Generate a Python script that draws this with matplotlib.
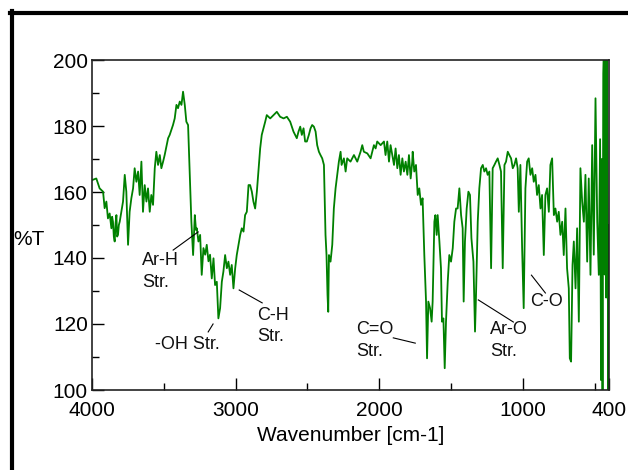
import matplotlib
matplotlib.use("Agg")
import matplotlib.pyplot as plt
from matplotlib.lines import Line2D

plt.rcParams['font.family'] = ['Liberation Sans', 'DejaVu Sans']

# Wavenumber (cm-1) and %T
wavenumber = [
    4000, 3970, 3947, 3923, 3912, 3900, 3889, 3877, 3865, 3860, 3854, 3848, 3842, 3836, 3830,
    3825, 3819, 3813, 3807,
    3796, 3784, 3772, 3761, 3749, 3738, 3726, 3714, 3703, 3691, 3679, 3668, 3656, 3645,
    3633, 3621, 3610, 3598, 3587, 3575, 3563, 3552, 3540, 3528, 3517, 3505, 3494, 3470,
    3459, 3436, 3424, 3412, 3401, 3389, 3377, 3366, 3354, 3343, 3331, 3319, 3308, 3296,
    3284, 3276, 3270, 3259, 3247, 3236, 3224, 3212, 3201, 3189, 3178, 3166, 3154, 3143,
    3131, 3120, 3108, 3096, 3085, 3073, 3061, 3050, 3038, 3027, 3015, 3003, 2992, 2980,
    2968, 2957, 2945, 2934, 2922, 2910, 2899, 2887, 2876, 2864, 2852, 2841, 2829, 2818,
    2806, 2794, 2783, 2759, 2736, 2713, 2690, 2666, 2643, 2620, 2597, 2574, 2562, 2550,
    2539, 2527, 2516, 2504, 2490, 2478, 2467, 2455, 2443, 2432, 2420, 2409, 2397, 2385,
    2374, 2367, 2360, 2355, 2350, 2339, 2327, 2316, 2304, 2292, 2281, 2269, 2262, 2246,
    2234, 2223, 2200, 2176, 2153, 2130, 2118, 2107, 2083, 2060, 2037, 2025, 2014, 1990,
    1967, 1956, 1944, 1932, 1921, 1909, 1897, 1886, 1874, 1863, 1851, 1839, 1828, 1816,
    1804, 1793, 1781, 1770, 1767, 1756, 1744, 1732, 1721, 1709, 1698, 1686, 1674, 1667,
    1658, 1646, 1635, 1628, 1616, 1609, 1600, 1593, 1581, 1570, 1563, 1553, 1544, 1535,
    1523, 1512, 1500, 1488, 1477, 1465, 1454, 1442, 1430, 1419, 1412, 1403, 1391, 1379,
    1368, 1358, 1344, 1333, 1326, 1314, 1303, 1291, 1279, 1268, 1256, 1245, 1233, 1221,
    1210, 1198, 1187, 1175, 1163, 1152, 1140, 1128, 1117, 1105, 1094, 1082, 1070, 1059,
    1047, 1036, 1028, 1017, 1005, 994, 982, 970, 959, 947, 935, 924, 912, 901,
    889, 877, 866, 854, 843, 831, 819, 808, 796, 784, 773, 761, 750, 738,
    726, 715, 703, 692, 680, 673, 664, 654, 645, 633, 622, 610, 599, 587,
    575, 564, 552, 541, 529, 517, 506, 494, 482, 471, 462, 455, 450, 445,
    440, 435, 430, 425, 420, 415, 410, 405, 402, 400,
]
transmittance = [
    163.6, 164.1, 161.1, 160.1, 155.1, 157.1, 152.0, 153.5, 149.0, 152.5, 151.0, 146.5, 145.0, 150.5, 153.0,
    146.5, 147.0, 150.0, 151.0,
    154.0, 157.1, 165.2, 160.1, 144.0, 154.0, 158.1, 161.1, 167.2, 163.1, 166.2, 159.1, 169.2, 154.0,
    162.1, 157.1, 161.1, 154.0, 159.1, 156.1, 167.2, 172.2, 168.2, 171.2, 167.2, 169.2, 171.2, 176.3,
    177.3, 180.3, 182.3, 186.4, 185.4, 187.4, 186.4, 190.4, 186.4, 181.3, 180.3, 165.2, 151.0, 140.9,
    153.0, 148.5, 149.0, 145.0, 147.0, 134.9, 143.0, 141.0, 144.0, 139.0, 141.0, 133.8, 139.9, 131.8,
    132.8, 121.7, 124.8, 132.8, 135.9, 140.9, 136.9, 138.9, 134.9, 137.9, 130.8, 136.9, 140.9, 144.0,
    147.0, 149.0, 148.0, 153.0, 154.0, 162.1, 162.1, 160.1, 157.1, 155.0, 160.1, 166.2, 173.2, 177.3,
    179.3, 181.3, 183.3, 182.3, 183.3, 184.3, 182.8, 182.3, 182.8, 181.3, 178.3, 176.3, 178.3, 179.8,
    177.3, 179.3, 175.3, 175.3, 177.3, 179.3, 180.3, 179.8, 178.3, 174.2, 172.2, 171.2, 170.2, 168.2,
    147.0, 140.9, 128.8, 123.7, 140.9, 138.9, 144.0, 155.0, 161.1, 165.2, 169.2, 172.2, 168.2, 170.2,
    166.2, 170.2, 169.2, 171.2, 169.2, 172.2, 174.2, 172.2, 171.7, 170.2, 174.2, 173.2, 175.3, 174.2,
    175.3, 171.2, 175.3, 169.2, 174.2, 171.2, 168.2, 173.2, 167.2, 171.2, 165.2, 170.2, 166.2, 169.2,
    165.2, 171.2, 164.1, 169.2, 172.2, 166.2, 168.2, 159.1, 161.1, 156.1, 158.1, 140.9, 126.8, 109.6,
    126.8, 124.8, 120.7, 126.8, 151.0, 153.0, 147.0, 153.0, 145.0, 136.9, 120.7, 121.7, 106.6, 120.7,
    132.8, 140.9, 138.9, 143.0, 151.0, 155.0, 155.0, 161.1, 153.0, 149.0, 126.8, 145.0, 155.0, 160.1,
    159.1, 146.0, 138.9, 117.7, 128.8, 151.0, 161.1, 167.2, 168.2, 166.2, 167.2, 165.2, 166.2, 136.9,
    167.2, 168.2, 169.2, 170.2, 168.2, 166.2, 136.9, 168.2, 169.2, 172.2, 171.2, 170.2, 167.2, 168.2,
    170.2, 167.2, 154.0, 168.2, 143.0, 124.8, 161.1, 169.2, 170.2, 165.2, 167.2, 163.1, 165.2, 159.1,
    162.1, 155.0, 159.1, 140.9, 159.1, 161.1, 154.0, 168.2, 170.2, 153.0, 155.0, 151.0, 154.0, 147.0,
    151.0, 140.9, 155.0, 136.9, 130.8, 109.6, 108.6, 137.9, 145.0, 130.8, 149.0, 120.7, 167.2, 157.1,
    151.0, 165.2, 138.9, 164.1, 134.9, 174.2, 141.0, 188.4, 151.0, 134.9, 176.0, 103.0, 170.0, 98.0,
    196.0, 205.0, 135.0, 205.0, 128.0, 205.0, 150.0, 98.0, 145.0, 150.0,
]

x_ticks = [4000, 3000, 2000, 1000, 400]
x_tick_labels = ['4000', '3000', '2000', '1000', '400']
y_ticks = [100, 120, 140, 160, 180, 200]

# annotation labels: (text, text position, leader start, leader end)
annotations = [
    ("Ar-H\nStr.", (3651, 141.8), (3435, 142.4), (3261, 147.9)),
    ("-OH Str.", (3561, 116.3), (3191, 117.6), (3157, 120.0)),
    ("C-H\nStr.", (2850, 125.3), (2975, 130.3), (2815, 126.4)),
    ("C=O\nStr.", (2160, 120.8), (1902, 115.8), (1749, 114.2)),
    ("Ar-O\nStr.", (1226, 120.8), (1310, 127.3), (1066, 120.6)),
    ("C-O", (947, 129.3), (940, 134.8), (843, 129.4)),
]

W, H = 628, 470
fig = plt.figure(figsize=(W / 100, H / 100), dpi=100)
ax = fig.add_axes([92 / W, (H - 390) / H, 517 / W, 330 / H])

ax.plot(wavenumber, transmittance, color='#008000', linewidth=1.3)

ax.set_xlim(4000, 400)
ax.set_ylim(100, 200)
ax.set_xticks(x_ticks)
ax.set_xticklabels(x_tick_labels)
ax.set_xticks([3500, 2500, 1500, 500], minor=True)
ax.set_yticks(y_ticks)
ax.set_yticks([110, 130, 150, 170, 190], minor=True)

ax.tick_params(axis='both', which='major', direction='in', length=8.6, width=1.0,
               labelsize=15, colors='black')
ax.tick_params(axis='both', which='minor', direction='in', length=5, width=1.0)
ax.tick_params(axis='x', which='major', pad=8)
ax.tick_params(axis='y', which='major', pad=3)
for sp in ax.spines.values():
    sp.set_linewidth(1.2)
    sp.set_color('#222222')

ax.set_xlabel('Wavenumber [cm-1]', fontsize=15, labelpad=4)
ax.set_ylabel('%T', fontsize=15, rotation=0, ha='center', va='center')
ax.yaxis.set_label_coords(-0.122, 0.455)

for txt, pos, p0, p1 in annotations:
    ax.text(pos[0], pos[1], txt, fontsize=13, ha='left', va='top', linespacing=1.35,
            color='#111111')
    ax.plot([p0[0], p1[0]], [p0[1], p1[1]], color='black', linewidth=0.8)

# thick frame lines at left and top of the figure
fig.add_artist(Line2D([12 / W, 12 / W], [0, (H - 11) / H], color='black', linewidth=3,
                      transform=fig.transFigure))
fig.add_artist(Line2D([10 / W, 1], [(H - 13) / H, (H - 13) / H], color='black', linewidth=3,
                      transform=fig.transFigure))

fig.savefig('out.png', dpi=100)
